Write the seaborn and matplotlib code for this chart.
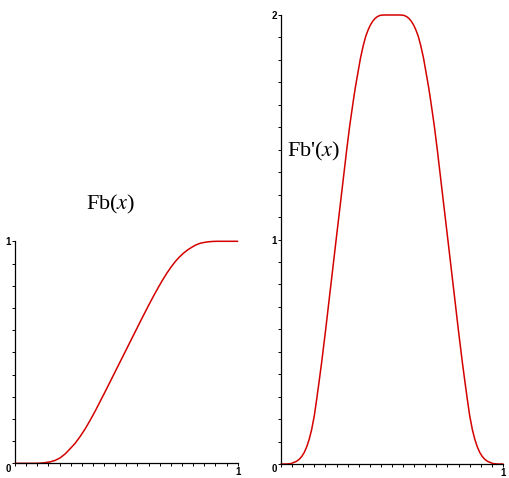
import matplotlib
matplotlib.use("Agg")
import matplotlib.pyplot as plt
from matplotlib.ticker import FixedLocator, MultipleLocator
import seaborn as sns

# Fb(x)
fb_x = [0.0, 0.10, 0.13, 0.16, 0.18, 0.202, 0.225, 0.247, 0.27, 0.292,
        0.315, 0.337, 0.36, 0.382, 0.405, 0.427, 0.45, 0.471, 0.49, 0.509,
        0.531, 0.55, 0.57, 0.59, 0.606, 0.625, 0.645, 0.663, 0.681, 0.70,
        0.72, 0.738, 0.756, 0.775, 0.795, 0.813, 0.831, 0.85, 0.87, 0.89,
        0.906, 1.0]
fb_y = [0.0, 0.0, 0.002, 0.007, 0.013, 0.024, 0.042, 0.065, 0.09, 0.12,
        0.155, 0.193, 0.235, 0.278, 0.323, 0.367, 0.413, 0.455, 0.493, 0.531,
        0.575, 0.613, 0.653, 0.692, 0.723, 0.759, 0.795, 0.826, 0.855, 0.883,
        0.909, 0.929, 0.946, 0.961, 0.974, 0.984, 0.991, 0.995, 0.998, 0.9995,
        1.0, 1.0]

# Fb'(x)
dfb_x = [0.0, 0.025, 0.045, 0.07, 0.082, 0.093, 0.105, 0.116, 0.127, 0.138,
         0.15, 0.161, 0.172, 0.183, 0.201, 0.218, 0.236, 0.248, 0.273, 0.296,
         0.31, 0.326, 0.335, 0.345, 0.358, 0.371, 0.382, 0.393, 0.403, 0.413,
         0.423, 0.433, 0.445, 0.46, 0.5, 0.54, 0.555, 0.567, 0.577, 0.587,
         0.597, 0.607, 0.618, 0.629, 0.642, 0.655, 0.665, 0.674, 0.69, 0.704,
         0.727, 0.752, 0.764, 0.782, 0.799, 0.817, 0.828, 0.839, 0.85, 0.862,
         0.873, 0.884, 0.895, 0.907, 0.918, 0.93, 0.955, 0.975, 1.0]
dfb_y = [0.0, 0.0, 0.002, 0.012, 0.021, 0.033, 0.052, 0.077, 0.11, 0.153,
         0.215, 0.29, 0.37, 0.452, 0.597, 0.742, 0.894, 0.996, 1.206, 1.40,
         1.51, 1.62, 1.678, 1.735, 1.808, 1.866, 1.906, 1.935, 1.956, 1.972,
         1.984, 1.992, 1.998, 2.0, 2.0, 2.0, 1.998, 1.992, 1.984, 1.972,
         1.956, 1.935, 1.906, 1.866, 1.808, 1.735, 1.678, 1.62, 1.51, 1.40,
         1.206, 0.996, 0.894, 0.742, 0.597, 0.452, 0.37, 0.29, 0.215, 0.153,
         0.11, 0.077, 0.052, 0.033, 0.021, 0.012, 0.002, 0.0, 0.0]

sns.set_style("ticks")
plt.rcParams["font.family"] = ["Liberation Sans", "DejaVu Sans"]
plt.rcParams["mathtext.fontset"] = "stix"
plt.rcParams["text.color"] = "black"

W, H = 510, 478
fig = plt.figure(figsize=(W / 100, H / 100), dpi=100)
fig.patch.set_facecolor("white")

red = "#d40000"


def setup(ax, ymax, ylabels):
    ax.set_xlim(0, 1)
    ax.set_ylim(0, ymax)
    sns.despine(ax=ax)
    for s in ["left", "bottom"]:
        ax.spines[s].set_linewidth(0.9)
        ax.spines[s].set_color("black")
    ax.set_facecolor("white")
    ax.xaxis.set_major_locator(FixedLocator([1]))
    ax.xaxis.set_minor_locator(MultipleLocator(0.05))
    ax.yaxis.set_major_locator(FixedLocator(ylabels))
    ax.yaxis.set_minor_locator(MultipleLocator(0.1))
    ax.set_xticklabels(["1"])
    ax.set_yticklabels([str(v) for v in ylabels])
    ax.tick_params(which="both", direction="out", length=2.5, width=0.7,
                   colors="black", labelsize=7, pad=0.5)
    for lab in ax.get_xticklabels() + ax.get_yticklabels():
        lab.set_fontweight("bold")
    ax.annotate("0", xy=(0, 0), xycoords="data", xytext=(-4.7, -3.8),
                textcoords="offset points", ha="center", va="center",
                fontsize=7, fontweight="bold", color="black")
    ax.set_xlabel("")
    ax.set_ylabel("")


ax1 = fig.add_axes([15 / W, 1 - 463.3 / H, 222.7 / W, 222 / H])
sns.lineplot(x=fb_x, y=fb_y, ax=ax1, color=red, linewidth=1.1, clip_on=False)
setup(ax1, 1, [1])

ax2 = fig.add_axes([281 / W, 1 - 464 / H, 222 / W, 449 / H])
sns.lineplot(x=dfb_x, y=dfb_y, ax=ax2, color=red, linewidth=1.1, clip_on=False)
setup(ax2, 2, [1, 2])

fig.text(111 / W, 1 - 204 / H, r"Fb($x$)", ha="center", va="center",
         fontsize=16, family="Liberation Serif", color="black")
fig.text(314 / W, 1 - 151 / H, r"Fb'($x$)", ha="center", va="center",
         fontsize=16, family="Liberation Serif", color="black")

fig.savefig("out.png", dpi=100, facecolor="white")
